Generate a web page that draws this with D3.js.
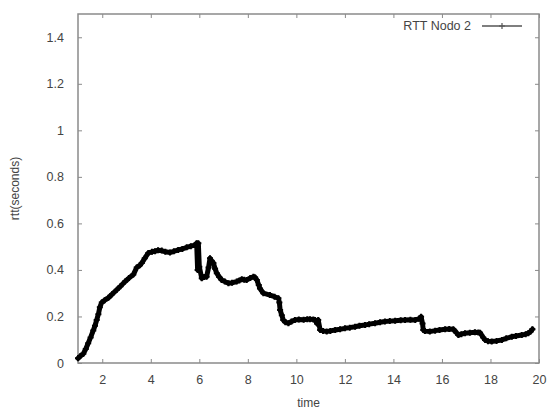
<!DOCTYPE html>
<html><head><meta charset="utf-8">
<script src="https://cdn.jsdelivr.net/npm/d3@7"></script>
<style>body{margin:0;background:#fff}svg{display:block}text{font-family:"Liberation Sans",Arial,sans-serif}</style>
</head><body><svg id="c" width="547" height="412"></svg>
<script>
const seriesName = "RTT Nodo 2";
const time = [1.0,1.1,1.22,1.32,1.42,1.52,1.63,1.7,1.77,1.84,1.9,1.98,2.1,2.25,2.4,2.6,2.75,2.94,3.1,3.28,3.42,3.55,3.63,3.75,3.9,4.05,4.17,4.3,4.45,4.6,4.79,4.95,5.13,5.3,5.48,5.65,5.82,5.89,5.93,5.96,6.0,6.1,6.2,6.3,6.38,6.44,6.5,6.58,6.65,6.72,6.82,6.92,7.05,7.2,7.35,7.54,7.65,7.75,7.85,7.95,8.1,8.23,8.3,8.37,8.45,8.5,8.64,8.91,9.1,9.26,9.3,9.33,9.4,9.46,9.55,9.67,9.8,9.94,10.1,10.3,10.45,10.56,10.7,10.77,10.85,10.9,10.98,11.1,11.25,11.4,11.6,11.8,12.0,12.2,12.42,12.6,12.83,13.0,13.24,13.45,13.65,13.85,14.07,14.3,14.48,14.7,14.9,15.05,15.14,15.2,15.23,15.3,15.5,15.72,15.9,16.13,16.3,16.47,16.6,16.68,16.8,16.95,17.15,17.36,17.5,17.57,17.7,17.78,17.9,18.05,18.25,18.47,18.65,18.88,19.05,19.29,19.45,19.56,19.65,19.73];
const rtt = [0.02,0.03,0.04,0.06,0.085,0.11,0.14,0.16,0.185,0.21,0.24,0.26,0.27,0.28,0.295,0.315,0.33,0.35,0.365,0.38,0.41,0.42,0.43,0.45,0.473,0.478,0.48,0.485,0.483,0.478,0.475,0.48,0.486,0.49,0.497,0.502,0.507,0.515,0.40,0.515,0.414,0.364,0.37,0.371,0.41,0.45,0.44,0.43,0.405,0.386,0.37,0.357,0.35,0.343,0.345,0.35,0.355,0.36,0.358,0.357,0.365,0.371,0.368,0.357,0.335,0.32,0.30,0.292,0.285,0.278,0.26,0.228,0.205,0.185,0.175,0.171,0.178,0.185,0.187,0.186,0.188,0.188,0.187,0.185,0.17,0.185,0.142,0.138,0.135,0.138,0.142,0.145,0.149,0.152,0.156,0.16,0.163,0.167,0.171,0.175,0.178,0.18,0.182,0.184,0.185,0.186,0.185,0.19,0.199,0.17,0.142,0.137,0.135,0.139,0.142,0.145,0.146,0.145,0.13,0.12,0.124,0.128,0.13,0.132,0.131,0.13,0.11,0.099,0.094,0.092,0.095,0.099,0.106,0.113,0.116,0.12,0.124,0.128,0.135,0.145];
const xTicks = [2,4,6,8,10,12,14,16,18,20];
const yTicks = [0,0.2,0.4,0.6,0.8,1,1.2,1.4];
const xLabel = "time", yLabel = "rtt(seconds)";

const svg = d3.select("#c");
const L=78, R=539, T=14, B=363;
const x = d3.scaleLinear().domain([1,20]).range([L,R]);
const y = d3.scaleLinear().domain([0,1.5]).range([B,T]);
const border = "#8a8a8a", txt = "#444";

// axes with inward ticks (gnuplot style), mirrored
const ax = d3.axisBottom(x).tickValues(xTicks).tickSize(-4).tickPadding(12).tickFormat(d3.format("d"));
const gx = svg.append("g").attr("transform",`translate(0,${B})`).call(ax);
const gxt = svg.append("g").attr("transform",`translate(0,${T})`).call(d3.axisTop(x).tickValues(xTicks).tickSize(-4).tickFormat(""));
const ay = d3.axisLeft(y).tickValues(yTicks).tickSize(-4).tickPadding(14).tickFormat(d=>String(d));
const gy = svg.append("g").attr("transform",`translate(${L},0)`).call(ay);
const gyr = svg.append("g").attr("transform",`translate(${R},0)`).call(d3.axisRight(y).tickValues(yTicks).tickSize(-4).tickFormat(""));
[gx,gxt,gy,gyr].forEach(g=>{
  g.select(".domain").remove();
  g.selectAll(".tick line").attr("stroke",border).attr("stroke-width",1);
  g.selectAll(".tick text").attr("fill",txt).attr("font-size",12.5);
});
svg.append("rect").attr("x",L).attr("y",T).attr("width",R-L).attr("height",B-T)
  .attr("fill","none").attr("stroke",border).attr("stroke-width",1.5);

svg.append("text").attr("x",(L+R)/2).attr("y",407).attr("text-anchor","middle")
  .attr("font-size",12).attr("fill",txt).text(xLabel);
svg.append("text").attr("transform",`translate(19,${(T+B)/2}) rotate(-90)`).attr("text-anchor","middle")
  .attr("font-size",12).attr("fill",txt).text(yLabel);

const data = time.map((t,i)=>({t,v:rtt[i]}));
const line = d3.line().x(d=>x(d.t)).y(d=>y(d.v));
svg.append("path").datum(data).attr("d",line).attr("fill","none")
  .attr("stroke","#000").attr("stroke-width",5).attr("stroke-linejoin","round").attr("stroke-linecap","round");
svg.append("g").selectAll("path").data(data).join("path")
  .attr("d",d=>`M${x(d.t)-3},${y(d.v)}h6M${x(d.t)},${y(d.v)-3}v6`)
  .attr("stroke","#000").attr("stroke-width",2);

// legend
svg.append("text").attr("x",471).attr("y",30).attr("text-anchor","end")
  .attr("font-size",12.5).attr("fill",txt).text(seriesName);
svg.append("line").attr("x1",482).attr("x2",522).attr("y1",26).attr("y2",26).attr("stroke","#555").attr("stroke-width",1.5);
svg.append("path").attr("d","M499,26h6M502,23v6").attr("stroke","#555").attr("stroke-width",1.2);
</script></body></html>
